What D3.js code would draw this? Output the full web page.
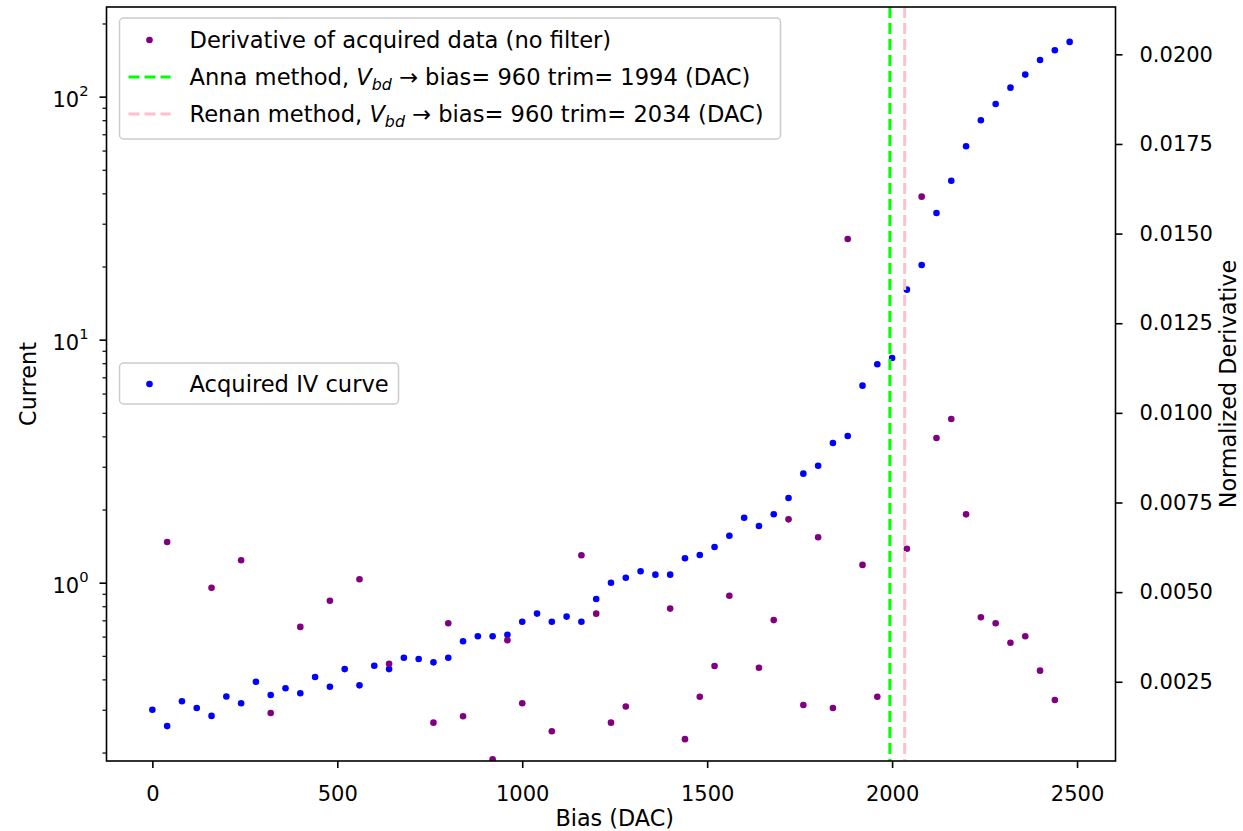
<!DOCTYPE html>
<html>
<head>
<meta charset="utf-8">
<script src="https://cdn.jsdelivr.net/npm/d3@7"></script>
<style>
  body { margin: 0; background: #fff; }
  text { font-family: "DejaVu Sans", sans-serif; }
</style>
</head>
<body>
<div id="vis"></div>
<script>
// acquired IV curve (bias in DAC, current)
const bias = [0, 40, 80, 120, 160, 200, 240, 280, 320, 360, 400, 440, 480, 520, 560, 600,
  640, 680, 720, 760, 800, 840, 880, 920, 960, 1000, 1040, 1080, 1120, 1160, 1200, 1240,
  1280, 1320, 1360, 1400, 1440, 1480, 1520, 1560, 1600, 1640, 1680, 1720, 1760, 1800, 1840,
  1880, 1920, 1960, 2000, 2040, 2080, 2120, 2160, 2200, 2240, 2280, 2320, 2360, 2400, 2440, 2480];
const current = [0.300, 0.257, 0.325, 0.305, 0.283, 0.340, 0.319, 0.391, 0.345, 0.368, 0.351,
  0.409, 0.373, 0.441, 0.378, 0.455, 0.441, 0.491, 0.485, 0.470, 0.491, 0.574, 0.602, 0.602,
  0.611, 0.691, 0.746, 0.691, 0.725, 0.691, 0.857, 1.000, 1.048, 1.114, 1.079, 1.079, 1.260,
  1.300, 1.403, 1.561, 1.851, 1.711, 1.912, 2.232, 2.809, 3.030, 3.757, 4.015, 6.468, 7.92,
  8.41, 16.06, 20.30, 33.2, 45.1, 62.5, 80.0, 93.3, 108.9, 123.2, 141.6, 155.3, 168.0];

// derivative of acquired data (only the points inside the view)
const derivBias = [40, 160, 240, 320, 400, 480, 560, 640, 760, 800, 840, 920, 960, 1000, 1080,
  1160, 1200, 1240, 1280, 1400, 1440, 1480, 1520, 1560, 1640, 1680, 1720, 1760, 1800, 1840,
  1880, 1920, 1960, 2040, 2080, 2120, 2160, 2200, 2240, 2280, 2320, 2360, 2400, 2440];
const derivValue = [0.00640, 0.00512, 0.00589, 0.00163, 0.00403, 0.00476, 0.00536, 0.00300,
  0.00136, 0.00413, 0.00154, 0.00034, 0.00366, 0.00190, 0.00112, 0.00603, 0.00440, 0.00136,
  0.00181, 0.00454, 0.00090, 0.00208, 0.00294, 0.00490, 0.00289, 0.00422, 0.00703, 0.00185,
  0.00653, 0.00177, 0.01485, 0.00576, 0.00208, 0.00621, 0.01603, 0.00930, 0.00983, 0.00717,
  0.00430, 0.00413, 0.00359, 0.00377, 0.00281, 0.00199];

const vbdBias = 960;
const annaTrim = 1994;
const renanTrim = 2034;

const xTicks = [0, 500, 1000, 1500, 2000, 2500];
const leftTicks = [1, 10, 100];
const rightTicks = [0.0025, 0.0050, 0.0075, 0.0100, 0.0125, 0.0150, 0.0175, 0.0200];

const W = 1243, H = 831;
const margin = { top: 7, right: 127.5, bottom: 70, left: 106.5 };
const width = W - margin.left - margin.right;
const height = H - margin.top - margin.bottom;
const fs = 21;      // tick labels
const fsLab = 22.3; // axis labels
const fsLeg = 22.6; // legend text

const svg = d3.select("#vis").append("svg")
  .attr("width", W)
  .attr("height", H);

const chart = svg.append("g")
  .attr("transform", `translate(${margin.left}, ${margin.top})`);

chart.append("clipPath").attr("id", "clip")
  .append("rect").attr("width", width).attr("height", height);

const x = d3.scaleLinear().domain([-124, 2604]).range([0, width]);
const yL = d3.scaleLog().domain([0.1846, 233.8]).range([height, 0]);
const yR = d3.scaleLinear().domain([0.00029, 0.02132]).range([height, 0]);

// x axis
const gx = chart.append("g")
  .attr("transform", `translate(0, ${height})`)
  .call(d3.axisBottom(x).tickValues(xTicks).tickSize(7).tickPadding(18).tickFormat(d3.format("d")));
gx.select(".domain").remove();
gx.selectAll("text").attr("font-size", fs).attr("fill", "#000");
gx.selectAll("line").attr("stroke-width", 1.6);

// left log axis, major + minor ticks
const minor = [];
[0.1, 1, 10, 100].forEach(dec => {
  for (let k = 2; k <= 9; k++) {
    const v = dec * k;
    if (v > yL.domain()[0] && v < yL.domain()[1]) minor.push(v);
  }
});
const gyMinor = chart.append("g")
  .call(d3.axisLeft(yL).tickValues(minor).tickSize(4).tickFormat(""));
gyMinor.select(".domain").remove();
gyMinor.selectAll("line").attr("stroke-width", 1.2);

const gy = chart.append("g")
  .call(d3.axisLeft(yL).tickValues(leftTicks).tickSize(7).tickPadding(11).tickFormat(""));
gy.select(".domain").remove();
gy.selectAll("line").attr("stroke-width", 1.6);
gy.selectAll(".tick text").each(function (d) {
  const t = d3.select(this).attr("font-size", fs).attr("fill", "#000").attr("dy", "0.45em");
  t.append("tspan").text("10");
  t.append("tspan").attr("font-size", fs * 0.7).attr("dy", "-0.75em").text(Math.round(Math.log10(d)));
});

// right axis
const gyR = chart.append("g")
  .attr("transform", `translate(${width}, 0)`)
  .call(d3.axisRight(yR).tickValues(rightTicks).tickSize(7).tickPadding(17).tickFormat(d3.format(".4f")));
gyR.select(".domain").remove();
gyR.selectAll("text").attr("font-size", fs).attr("fill", "#000");
gyR.selectAll("line").attr("stroke-width", 1.6);

// axis labels
chart.append("text")
  .attr("x", x(1250))
  .attr("y", height + 65)
  .attr("text-anchor", "middle")
  .attr("font-size", fsLab)
  .text("Bias (DAC)");

chart.append("text")
  .attr("transform", "rotate(-90)")
  .attr("x", -height / 2)
  .attr("y", -71)
  .attr("text-anchor", "middle")
  .attr("font-size", fsLab)
  .text("Current");

chart.append("text")
  .attr("transform", "rotate(-90)")
  .attr("x", -height / 2)
  .attr("y", width + 120)
  .attr("text-anchor", "middle")
  .attr("font-size", fsLab)
  .text("Normalized Derivative");

// marks
const plot = chart.append("g").attr("clip-path", "url(#clip)");

plot.selectAll("circle.iv")
  .data(bias)
  .enter()
  .append("circle")
  .attr("class", "iv")
  .attr("cx", (d, i) => x(d))
  .attr("cy", (d, i) => yL(current[i]))
  .attr("r", 3.3)
  .attr("fill", "blue");

// second legend belongs to the IV axis, drawn under the twin axis
const leg2 = chart.append("g").attr("transform", "translate(13, 356)");
leg2.append("rect")
  .attr("width", 279).attr("height", 41).attr("rx", 4)
  .attr("fill", "white").attr("fill-opacity", 0.8)
  .attr("stroke", "#cccccc").attr("stroke-width", 1.5);
leg2.append("circle").attr("cx", 30).attr("cy", 21).attr("r", 3.3).attr("fill", "blue");
leg2.append("text").attr("x", 70).attr("y", 21).attr("dy", "0.35em")
  .attr("font-size", fsLeg).attr("fill", "#000").text("Acquired IV curve");

plot.selectAll("circle.der")
  .data(derivBias)
  .enter()
  .append("circle")
  .attr("class", "der")
  .attr("cx", d => x(d))
  .attr("cy", (d, i) => yR(derivValue[i]))
  .attr("r", 3.3)
  .attr("fill", "purple");

plot.append("line")
  .attr("x1", x(annaTrim)).attr("x2", x(annaTrim))
  .attr("y1", 0).attr("y2", height)
  .attr("stroke", "lime").attr("stroke-width", 3)
  .attr("stroke-dasharray", "11,5");

plot.append("line")
  .attr("x1", x(renanTrim)).attr("x2", x(renanTrim))
  .attr("y1", 0).attr("y2", height)
  .attr("stroke", "pink").attr("stroke-width", 3)
  .attr("stroke-dasharray", "11,5");

// spines
chart.append("rect")
  .attr("width", width).attr("height", height)
  .attr("fill", "none").attr("stroke", "#000").attr("stroke-width", 1.6);

// first legend
const leg1 = chart.append("g").attr("transform", "translate(13, 11)");
leg1.append("rect")
  .attr("width", 661).attr("height", 121).attr("rx", 4)
  .attr("fill", "white").attr("fill-opacity", 0.8)
  .attr("stroke", "#cccccc").attr("stroke-width", 1.5);

const rows = [
  { kind: "dot", color: "purple" },
  { kind: "dash", color: "lime", trim: annaTrim, name: "Anna" },
  { kind: "dash", color: "pink", trim: renanTrim, name: "Renan" }
];
rows.forEach((r, i) => {
  const row = leg1.append("g").attr("transform", `translate(0, ${22 + i * 37})`);
  if (r.kind === "dot") {
    row.append("circle").attr("cx", 30).attr("cy", 0).attr("r", 3.3).attr("fill", r.color);
    row.append("text").attr("x", 70).attr("dy", "0.35em").attr("font-size", fsLeg)
      .text("Derivative of acquired data (no filter)");
  } else {
    row.append("line").attr("x1", 9).attr("x2", 51).attr("y1", 0).attr("y2", 0)
      .attr("stroke", r.color).attr("stroke-width", 3).attr("stroke-dasharray", "11,5");
    const t = row.append("text").attr("x", 70).attr("dy", "0.35em").attr("font-size", fsLeg);
    t.append("tspan").text(`${r.name} method, `);
    t.append("tspan").attr("font-style", "italic").text("V");
    t.append("tspan").attr("font-style", "italic").attr("font-size", fsLeg * 0.7).attr("dy", "0.3em").text("bd");
    t.append("tspan").attr("dy", "-0.21em").text(` \u2192 bias= ${vbdBias} trim= ${r.trim} (DAC)`);
  }
});
</script>
</body>
</html>
